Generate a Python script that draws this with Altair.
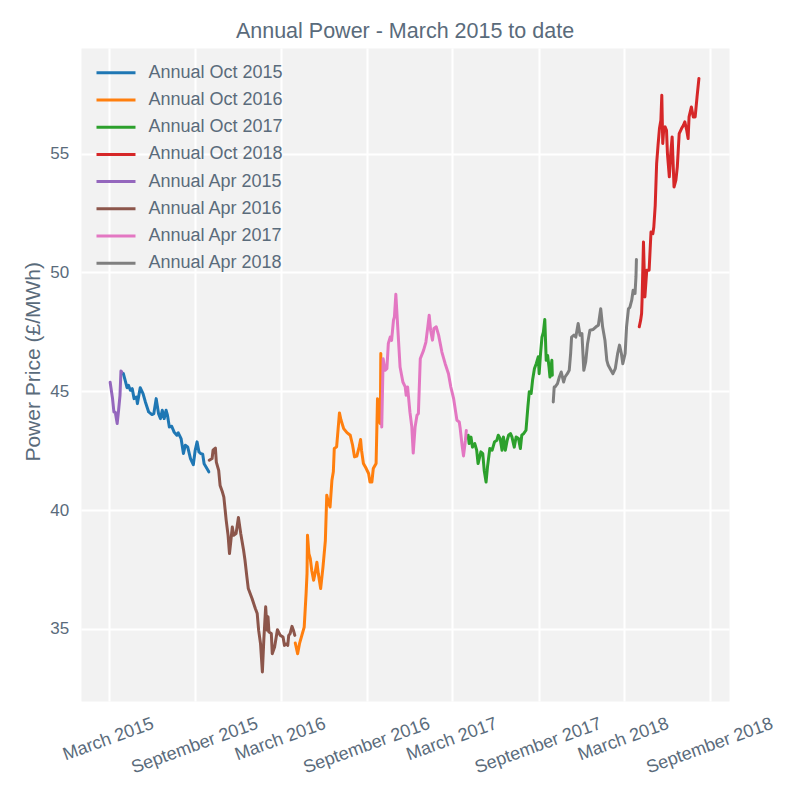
import altair as alt
import pandas as pd

# ---------------- data ----------------
contracts = ["Annual Oct 2015", "Annual Oct 2016", "Annual Oct 2017", "Annual Oct 2018",
             "Annual Apr 2015", "Annual Apr 2016", "Annual Apr 2017", "Annual Apr 2018"]
colors = ["#1f77b4", "#ff7f0e", "#2ca02c", "#d62728",
          "#9467bd", "#8c564b", "#e377c2", "#7f7f7f"]

apr15_dates = ["2015-03-04", "2015-03-09", "2015-03-12", "2015-03-15", "2015-03-19",
               "2015-03-22", "2015-03-25", "2015-03-27", "2015-03-29"]
apr15_vals = [45.38, 44.71, 44.13, 44.12, 43.64, 44.20, 44.83, 45.85, 45.80]

oct15_dates = ["2015-04-01", "2015-04-05", "2015-04-09", "2015-04-12", "2015-04-16", "2015-04-20",
               "2015-04-24", "2015-04-29", "2015-05-01", "2015-05-07", "2015-05-13", "2015-05-18",
               "2015-05-25", "2015-06-01", "2015-06-05", "2015-06-10", "2015-06-15", "2015-06-19",
               "2015-06-23", "2015-06-27", "2015-07-01", "2015-07-04", "2015-07-08", "2015-07-13",
               "2015-07-18", "2015-07-24", "2015-07-27", "2015-08-02", "2015-08-07", "2015-08-11",
               "2015-08-16", "2015-08-22", "2015-08-28", "2015-09-01", "2015-09-05", "2015-09-09",
               "2015-09-13", "2015-09-17", "2015-09-20", "2015-09-26", "2015-09-30"]
oct15_vals = [45.75, 45.46, 45.15, 45.25, 45.04, 45.11, 44.69, 44.76, 44.48, 45.15, 44.90, 44.55,
              44.13, 44.02, 44.06, 44.69, 44.06, 43.85, 44.20, 43.85, 44.20, 43.99, 43.50, 43.53,
              43.29, 43.15, 43.25, 43.01, 42.38, 42.73, 42.66, 42.17, 41.91, 42.52, 42.87, 42.45,
              42.38, 42.35, 41.95, 41.75, 41.61]

apr16_dates = ["2015-10-01", "2015-10-07", "2015-10-09", "2015-10-14", "2015-10-16", "2015-10-21",
               "2015-10-24", "2015-10-29", "2015-11-01", "2015-11-06", "2015-11-10", "2015-11-13",
               "2015-11-16", "2015-11-19", "2015-11-22", "2015-11-27", "2015-12-02", "2015-12-07",
               "2015-12-13", "2015-12-16", "2015-12-20", "2015-12-23", "2015-12-31", "2016-01-07",
               "2016-01-11", "2016-01-14", "2016-01-18", "2016-01-22", "2016-01-25", "2016-01-29",
               "2016-02-01", "2016-02-03", "2016-02-05", "2016-02-10", "2016-02-12", "2016-02-17",
               "2016-02-23", "2016-02-29", "2016-03-06", "2016-03-09", "2016-03-14", "2016-03-16",
               "2016-03-18", "2016-03-21", "2016-03-25", "2016-03-28", "2016-03-31"]
apr16_vals = [42.10, 42.17, 42.52, 42.61, 42.02, 41.67, 41.04, 40.76, 40.55, 39.57, 38.94, 38.17,
              38.73, 39.29, 38.94, 39.01, 39.69, 39.01, 38.31, 37.89, 37.19, 36.70, 36.28, 35.86,
              35.65, 34.95, 34.39, 33.19, 34.52, 35.93, 34.95, 35.51, 34.87, 34.81, 33.96, 34.24,
              34.97, 34.73, 34.66, 34.31, 34.38, 34.31, 34.73, 34.80, 35.11, 34.95, 34.73]

oct16_dates = ["2016-04-01", "2016-04-06", "2016-04-10", "2016-04-15", "2016-04-20", "2016-04-24",
               "2016-04-26", "2016-04-27", "2016-04-30", "2016-05-03", "2016-05-06", "2016-05-10",
               "2016-05-13", "2016-05-17", "2016-05-20", "2016-05-25", "2016-05-30", "2016-06-04",
               "2016-06-07", "2016-06-11", "2016-06-14", "2016-06-18", "2016-06-21", "2016-06-23",
               "2016-06-28", "2016-07-04", "2016-07-07", "2016-07-13", "2016-07-20", "2016-07-27",
               "2016-08-01", "2016-08-05", "2016-08-10", "2016-08-15", "2016-08-18", "2016-08-20",
               "2016-08-24", "2016-08-30", "2016-09-04", "2016-09-07", "2016-09-11", "2016-09-14",
               "2016-09-20", "2016-09-23", "2016-09-25", "2016-09-29", "2016-09-30"]
oct16_vals = [34.41, 33.96, 34.38, 34.73, 35.08, 36.49, 37.33, 38.94, 38.17, 37.96, 37.47, 37.05,
              37.33, 37.81, 37.33, 36.70, 37.61, 38.72, 40.63, 40.28, 40.13, 41.26, 41.61, 42.59,
              42.66, 44.09, 43.81, 43.43, 43.26, 43.15, 42.73, 42.24, 42.27, 42.66, 42.97, 42.52,
              41.96, 41.75, 41.54, 41.18, 41.18, 41.75, 41.96, 44.69, 43.78, 43.64, 46.59]

apr17_dates = ["2016-10-02", "2016-10-05", "2016-10-09", "2016-10-13", "2016-10-16", "2016-10-20",
               "2016-10-23", "2016-10-27", "2016-10-29", "2016-11-01", "2016-11-05", "2016-11-10",
               "2016-11-16", "2016-11-21", "2016-11-23", "2016-11-26", "2016-12-01", "2016-12-05",
               "2016-12-08", "2016-12-12", "2016-12-16", "2016-12-19", "2016-12-23", "2016-12-30",
               "2017-01-04", "2017-01-08", "2017-01-11", "2017-01-14", "2017-01-18", "2017-01-21",
               "2017-01-26", "2017-01-31", "2017-02-07", "2017-02-14", "2017-02-21", "2017-02-26",
               "2017-03-04", "2017-03-11", "2017-03-16", "2017-03-18", "2017-03-22", "2017-03-25",
               "2017-03-29", "2017-03-31"]
apr17_vals = [43.50, 46.37, 45.88, 45.95, 47.01, 47.28, 47.14, 47.99, 48.13, 49.08, 47.71, 46.02,
              45.39, 45.18, 44.83, 45.18, 44.12, 43.50, 42.40, 43.50, 43.99, 44.06, 46.37, 46.72,
              47.07, 47.71, 48.20, 47.57, 47.15, 47.64, 47.71, 47.36, 46.65, 46.16, 45.74, 45.18,
              44.69, 43.78, 43.71, 43.43, 42.73, 42.28, 42.92, 43.35]

oct17_dates = ["2017-04-04", "2017-04-06", "2017-04-10", "2017-04-13", "2017-04-18", "2017-04-22",
               "2017-04-25", "2017-05-01", "2017-05-05", "2017-05-08", "2017-05-12", "2017-05-15",
               "2017-05-20", "2017-05-25", "2017-05-30", "2017-06-04", "2017-06-07", "2017-06-11",
               "2017-06-15", "2017-06-18", "2017-06-22", "2017-06-26", "2017-06-29", "2017-07-03",
               "2017-07-06", "2017-07-11", "2017-07-15", "2017-07-20", "2017-07-24", "2017-07-27",
               "2017-07-31", "2017-08-05", "2017-08-09", "2017-08-12", "2017-08-16", "2017-08-19",
               "2017-08-23", "2017-08-27", "2017-08-31", "2017-09-02", "2017-09-05", "2017-09-08",
               "2017-09-11", "2017-09-14", "2017-09-17", "2017-09-20", "2017-09-23", "2017-09-25",
               "2017-09-29", "2017-09-30"]
oct17_vals = [43.15, 42.80, 43.07, 42.65, 42.80, 42.52, 41.96, 42.45, 42.38, 41.68, 41.18, 41.81,
              42.59, 42.52, 42.87, 42.94, 43.15, 43.01, 42.52, 43.08, 42.52, 42.94, 43.15, 43.22,
              43.08, 42.65, 43.08, 43.01, 42.59, 43.15, 43.22, 43.36, 44.34, 44.98, 44.91, 45.47,
              45.96, 46.17, 46.45, 45.74, 46.59, 47.28, 47.49, 48.02, 46.30, 46.51, 46.02, 45.60,
              46.30, 45.67]

apr18_dates = ["2017-10-02", "2017-10-04", "2017-10-06", "2017-10-11", "2017-10-15", "2017-10-19",
               "2017-10-24", "2017-10-27", "2017-11-01", "2017-11-05", "2017-11-08", "2017-11-10",
               "2017-11-15", "2017-11-19", "2017-11-24", "2017-11-28", "2017-12-02", "2017-12-06",
               "2017-12-10", "2017-12-14", "2017-12-19", "2017-12-26", "2018-01-01", "2018-01-06",
               "2018-01-11", "2018-01-15", "2018-01-20", "2018-01-24", "2018-01-27", "2018-01-31",
               "2018-02-06", "2018-02-11", "2018-02-16", "2018-02-20", "2018-02-24", "2018-02-27",
               "2018-03-04", "2018-03-07", "2018-03-11", "2018-03-14", "2018-03-18", "2018-03-21",
               "2018-03-25", "2018-03-27", "2018-03-28"]
apr18_vals = [44.55, 45.18, 45.18, 45.32, 45.60, 45.81, 45.39, 45.60, 45.74, 45.88, 46.59, 47.28,
              47.36, 47.28, 47.85, 47.36, 47.43, 45.88, 46.23, 47.00, 47.57, 47.60, 47.71, 47.78,
              48.47, 47.71, 47.15, 46.30, 46.09, 45.95, 45.74, 45.95, 46.59, 46.94, 46.59, 46.16,
              46.59, 47.71, 48.47, 48.53, 48.83, 49.25, 49.11, 49.81, 50.54]

oct18_dates = ["2018-04-03", "2018-04-06", "2018-04-08", "2018-04-09", "2018-04-12", "2018-04-15",
               "2018-04-19", "2018-04-24", "2018-04-28", "2018-05-02", "2018-05-04", "2018-05-07",
               "2018-05-10", "2018-05-13", "2018-05-16", "2018-05-19", "2018-05-21", "2018-05-23",
               "2018-05-25", "2018-05-28", "2018-05-31", "2018-06-02", "2018-06-06", "2018-06-09",
               "2018-06-12", "2018-06-16", "2018-06-20", "2018-06-23", "2018-06-27", "2018-07-02",
               "2018-07-06", "2018-07-09", "2018-07-13", "2018-07-16", "2018-07-18", "2018-07-23",
               "2018-07-27", "2018-07-31", "2018-08-04", "2018-08-08"]
oct18_vals = [47.71, 47.99, 48.27, 48.83, 51.28, 48.97, 50.09, 50.09, 51.70, 51.63, 51.91, 52.82,
              54.58, 55.35, 56.05, 56.40, 57.45, 55.42, 55.98, 56.12, 55.98, 55.00, 54.02, 55.00,
              55.70, 53.59, 53.88, 54.44, 55.84, 56.05, 56.19, 56.33, 55.98, 55.63, 56.54, 56.96,
              56.54, 56.54, 57.38, 58.16]

y_ticks = [35, 40, 45, 50, 55]
x_tick_months = [(2015, 3), (2015, 9), (2016, 3), (2016, 9),
                 (2017, 3), (2017, 9), (2018, 3), (2018, 9)]

# ---------------- table ----------------
series = {
    "Annual Oct 2015": (oct15_dates, oct15_vals),
    "Annual Oct 2016": (oct16_dates, oct16_vals),
    "Annual Oct 2017": (oct17_dates, oct17_vals),
    "Annual Oct 2018": (oct18_dates, oct18_vals),
    "Annual Apr 2015": (apr15_dates, apr15_vals),
    "Annual Apr 2016": (apr16_dates, apr16_vals),
    "Annual Apr 2017": (apr17_dates, apr17_vals),
    "Annual Apr 2018": (apr18_dates, apr18_vals),
}
frames = []
for name, (d, v) in series.items():
    frames.append(pd.DataFrame({"date": d, "price": v, "contract": name}))
df = pd.concat(frames, ignore_index=True)

TEXT = "#5a6b7b"
FONT = "Liberation Sans"

x_axis = alt.Axis(
    values=[alt.DateTime(year=y, month=m, date=1, utc=True) for y, m in x_tick_months],
    format="%B %Y",
    labelAngle=-20,
    labelAlign="right",
    labelBaseline="top",
    labelOffset={"condition": {"test": "utcmonth(datum.value) == 2", "value": 40.8}, "value": 58.6},
    labelPadding=13.4,
    labelOverlap=False,
    labelFlush=False,
    labelFontSize=18,
    labelFont=FONT,
    labelColor=TEXT,
    ticks=False,
    tickSize=0,
    domain=False,
    grid=True,
    gridColor="white",
    gridWidth=2,
    title=None,
)

y_axis = alt.Axis(
    values=y_ticks,
    labelPadding=12.3,
    labelFontSize=17,
    labelFont=FONT,
    labelColor=TEXT,
    ticks=False,
    tickSize=0,
    domain=False,
    grid=True,
    gridColor="white",
    gridWidth=2,
    title="Power Price (£/MWh)",
    titleFontSize=21,
    titleFont=FONT,
    titleFontWeight="normal",
    titleColor=TEXT,
    titleAngle=270,
    titleAlign="center",
    titleBaseline="alphabetic",
    titleX=-41.4,
    titleY=313.3,
)

legend = alt.Legend(
    title=None,
    orient="none",
    legendX=23.5,
    legendY=13.3,
    symbolType="M-2,0L2,0",
    symbolSize=380,
    symbolStrokeWidth=3,
    labelFontSize=18,
    labelFont=FONT,
    labelColor=TEXT,
    labelOffset=21,
    rowPadding=6.2,
    padding=0,
    labelLimit=400,
    direction="vertical",
)

chart = alt.Chart(df).mark_line(strokeWidth=3, strokeJoin="round", strokeCap="round").encode(
    x=alt.X("date:T",
            scale=alt.Scale(type="utc", nice=False,
                            domain=[alt.DateTime(year=2015, month=1, date=1, utc=True),
                                    alt.DateTime(year=2018, month=10, date=11, utc=True)]),
            axis=x_axis),
    y=alt.Y("price:Q",
            scale=alt.Scale(domain=[31.97, 59.44], nice=False, zero=False),
            axis=y_axis),
    color=alt.Color("contract:N", scale=alt.Scale(domain=contracts, range=colors), legend=legend),
).properties(
    width=648,
    height=653,
    background="white",
    autosize=alt.AutoSizeParams(type="none"),
    padding={"left": 73, "top": 40, "right": 63, "bottom": 85},
    title=alt.TitleParams(
        text="Annual Power - March 2015 to date",
        fontSize=21.5,
        font=FONT,
        fontWeight="normal",
        color=TEXT,
        anchor="middle",
        frame="group",
        baseline="alphabetic",
        offset=-11.5,
    ),
).configure_view(
    fill="#f2f2f2",
    stroke="transparent",
)

chart.save("out.html", embed_options={"renderer": "svg", "actions": False})
